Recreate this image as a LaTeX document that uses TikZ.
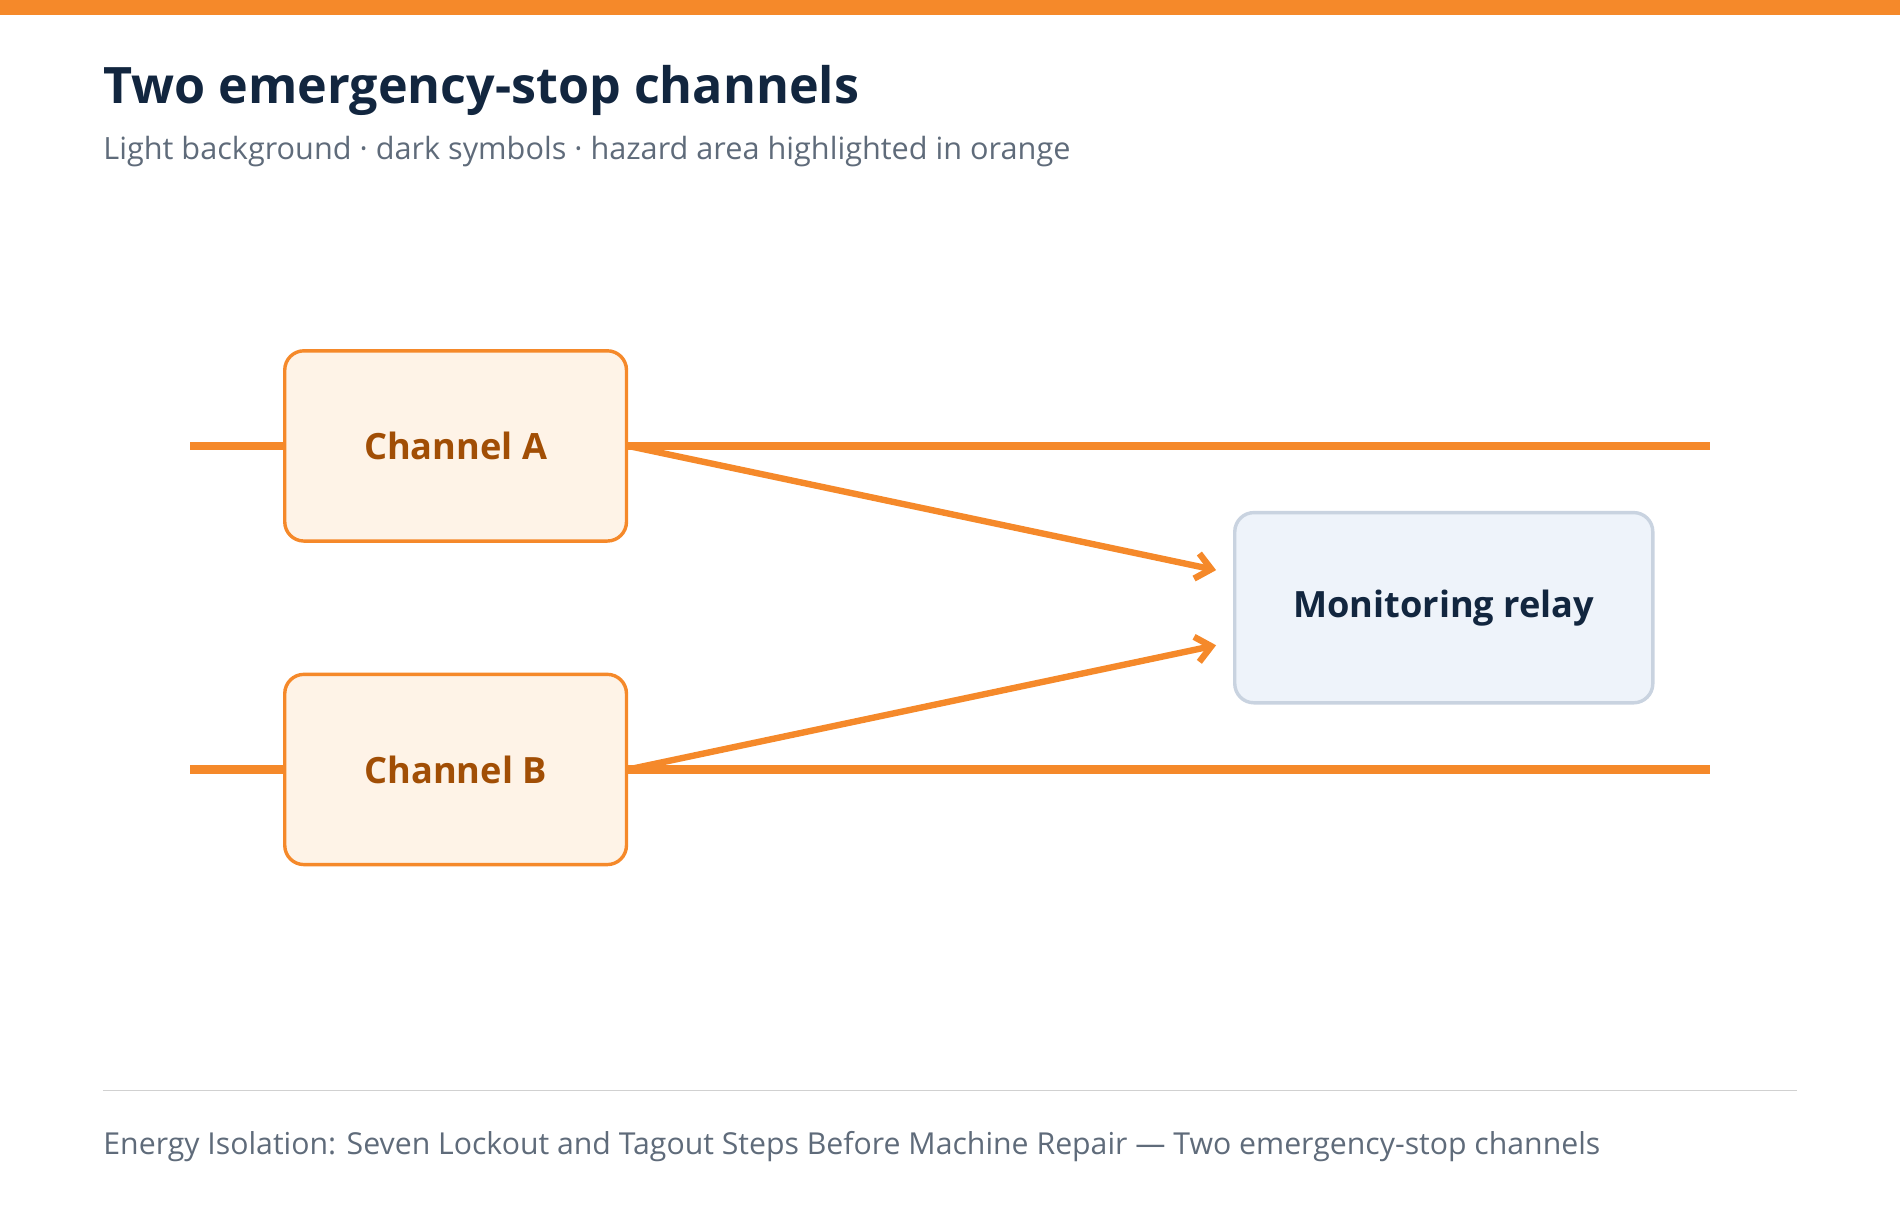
\documentclass[tikz,border=0pt]{standalone}
\usepackage{fontspec}
\setmainfont{Open Sans}
\usetikzlibrary{arrows.meta}
\definecolor{hazard}{HTML}{F5892A}
\definecolor{hazardfill}{HTML}{FEF3E7}
\definecolor{hazardtext}{HTML}{A14E05}
\definecolor{navy}{HTML}{12263F}
\definecolor{slate}{HTML}{5F6B7A}
\definecolor{relayfill}{HTML}{EEF3FA}
\definecolor{relayline}{HTML}{C9D3E0}
\tikzset{
    channel/.style={draw=hazard, fill=hazardfill, line width=1.6pt,
        rounded corners=9pt, minimum width=282*0.02cm, minimum height=157*0.02cm,
        font=\bfseries\fontsize{17}{20}\selectfont, text=hazardtext},
    relay/.style={draw=relayline, fill=relayfill, line width=1.6pt,
        rounded corners=9pt, minimum width=345*0.02cm, minimum height=157*0.02cm,
        font=\bfseries\fontsize{17}{20}\selectfont, text=navy},
    bus/.style={draw=hazard, line width=4pt},
    feed/.style={draw=hazard, line width=3pt, -{Straight Barb[length=7pt,width=12pt]}}
}
\begin{document}
\begin{tikzpicture}[x=0.02cm, y=-0.02cm]
  \useasboundingbox (0,0) rectangle (1568,1003.5);
  \fill[hazard] (0,0) rectangle (1568,12);
  \node (title) [anchor=base west, inner sep=0, text=navy,
    font=\bfseries\fontsize{23.6}{28}\selectfont] at (85,85) {Two emergency-stop channels};
  \node (sub) [anchor=base west, inner sep=0, text=slate,
    font=\fontsize{14.4}{17}\selectfont] at (85,132)
    {Light background · dark symbols · hazard area highlighted in orange};

  % busbars
  \coordinate (a_in) at (157,368);
  \coordinate (a_out) at (1411,368);
  \coordinate (b_in) at (157,635);
  \coordinate (b_out) at (1411,635);
  \draw[bus] (a_in) -- (a_out);
  \draw[bus] (b_in) -- (b_out);

  \node (ch_a) [channel] at (376,368) {Channel A};
  \node (ch_b) [channel] at (376,635) {Channel B};
  \node (relay) [relay] at (1191.5,501.5) {\raisebox{-2pt}{Monitoring relay}};

  \draw[feed] (ch_a.east) -- ([xshift=-14*0.02cm, yshift=31*0.02cm]relay.west);
  \draw[feed] (ch_b.east) -- ([xshift=-14*0.02cm, yshift=-31*0.02cm]relay.west);

  \coordinate (rule_l) at (85,900);
  \coordinate (rule_r) at (1483,900);
  \draw[black!18, line width=0.8pt] (rule_l) -- (rule_r);
  \node (foot) [anchor=base west, inner sep=0, text=slate,
    font=\fontsize{14.2}{17}\selectfont] at (85,953)
    {Energy Isolation: Seven Lockout and Tagout Steps Before Machine Repair — Two emergency-stop channels};
\end{tikzpicture}
\end{document}
